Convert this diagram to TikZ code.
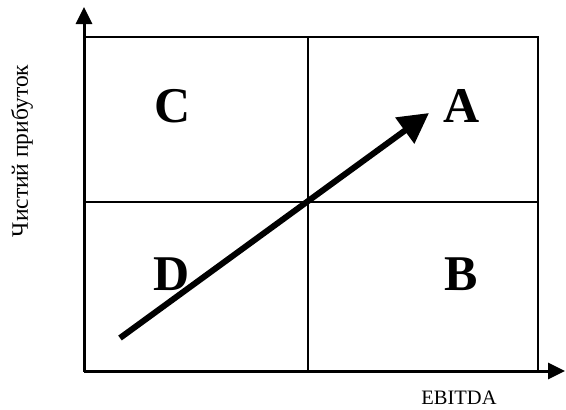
\documentclass[tikz,border=0pt]{standalone}
\usepackage{fontspec}
\setmainfont{Liberation Serif}
\usepackage{tikz}
\usetikzlibrary{arrows.meta,positioning,calc}
\tikzset{
  axisline/.style={line width=3pt,color=black,
                   -{Triangle[length=17pt,width=16pt]}},
  gridline/.style={line width=2pt,color=black},
  trendarr/.style={line width=6pt,color=black,
                   -{Triangle[length=30pt,width=31pt]}},
  quadlabel/.style={inner sep=0pt,font=\fontsize{50}{50}\selectfont\bfseries},
  axislabel/.style={inner sep=0pt}
}

\begin{document}
\begin{tikzpicture}[x=1pt,y=-1pt]
  \useasboundingbox (0,0) rectangle (566,410);

  % frame corners and axes
  \coordinate (org) at (84,371);
  \coordinate (ytip) at (84,7);
  \coordinate (xtip) at (565,371);
  \coordinate (tr) at (538,37);
  \coordinate (mid) at (308,202);

  % quadrant grid
  \draw[gridline] (org) rectangle (tr);
  \draw[gridline] (org -| mid) -- (tr -| mid);
  \draw[gridline] (org |- mid) -- (tr |- mid);

  \draw[axisline] (org) -- (ytip);
  \draw[axisline] (org) -- (xtip);

  % quadrant letters
  \node[quadlabel] (qc) at (173,106) {C};
  \node[quadlabel] (qa) at (462,106) {A};
  \node[quadlabel] (qd) at (172,274) {D};
  \node[quadlabel] (qb) at (461,274) {B};

  % growth direction
  \coordinate (tail) at (120,338);
  \coordinate (head) at (429,113);
  \draw[trendarr] (tail) -- (head);

  % axis titles
  \node[axislabel,font=\fontsize{20.5}{21}\selectfont] (xlab) at (459,398)
      {EBITDA};
  \node[axislabel,rotate=90,font=\fontsize{23.5}{24}\selectfont] (ylab)
      at (22,151) {Чистий прибуток};
\end{tikzpicture}
\end{document}
